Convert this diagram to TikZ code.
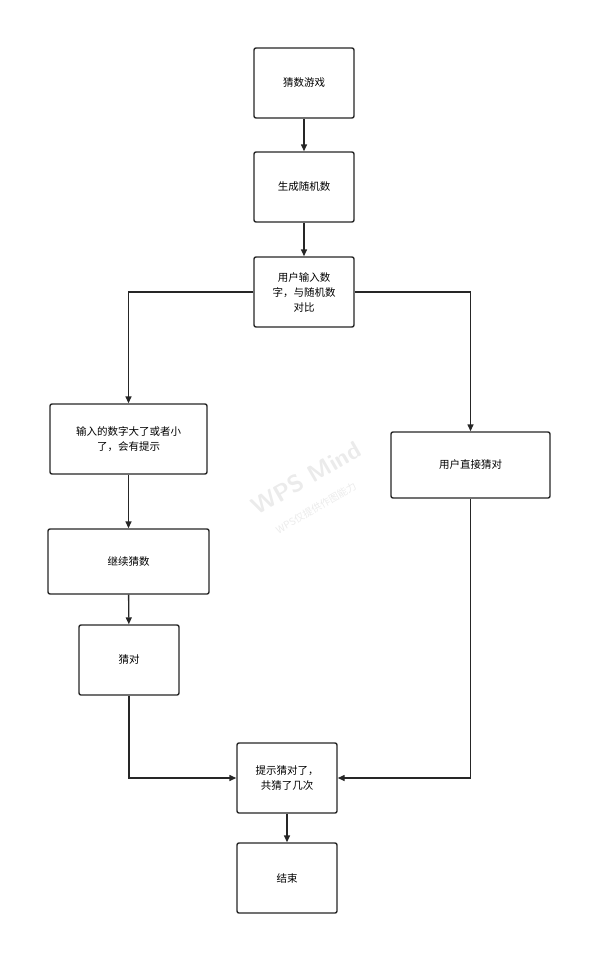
\documentclass[tikz,border=0pt]{standalone}
\usepackage{fontspec}
\newfontfamily\cjk{Noto Sans CJK SC}
\usetikzlibrary{arrows.meta}
\begin{document}
\begin{tikzpicture}[x=1pt,y=-1pt,>={Triangle[length=7pt,width=6pt]},
  box/.style={draw=black!85,line width=1.4pt,rounded corners=2pt,fill=white,align=center,font=\cjk\fontsize{10.5pt}{15pt}\selectfont,inner sep=0pt},
  link/.style={draw=black!85,line width=1.4pt,->}]
\useasboundingbox (0,0) rectangle (612,974);

% watermark
\node[rotate=30,text=black!8,font=\sffamily\bfseries\fontsize{24pt}{24pt}\selectfont] (wm) at (306,478) {WPS Mind};
\node[rotate=30,text=black!8,font=\cjk\fontsize{10pt}{10pt}\selectfont] (wmsub) at (316,508) {WPS仅提供作图能力};

\node[box,minimum width=100,minimum height=70] (start) at (304,83) {猜数游戏};
\node[box,minimum width=100,minimum height=70] (rand) at (304,187) {生成随机数};
\node[box,minimum width=100,minimum height=70] (input) at (304,292) {用户输入数\\字，与随机数\\对比};
\node[box,minimum width=157,minimum height=70] (hint) at (128.5,439) {输入的数字大了或者小\\了，会有提示};
\node[box,minimum width=159,minimum height=66] (direct) at (470.5,465) {用户直接猜对};
\node[box,minimum width=161,minimum height=65] (again) at (128.5,561.5) {继续猜数};
\node[box,minimum width=100,minimum height=70] (right) at (129,660) {猜对};
\node[box,minimum width=100,minimum height=70] (tell) at (287,778) {提示猜对了，\\共猜了几次};
\node[box,minimum width=100,minimum height=70] (stop) at (287,878) {结束};

\draw[link] (start) -- (rand);
\draw[link] (rand) -- (input);
\draw[link] (input.west) -| (hint.north);
\draw[link] (input.east) -| (direct.north);
\draw[link] (hint) -- (again);
\draw[link] (again) -- (right);
\draw[link] (right.south) |- (tell.west);
\draw[link] (direct.south) |- (tell.east);
\draw[link] (tell) -- (stop);
\end{tikzpicture}
\end{document}
